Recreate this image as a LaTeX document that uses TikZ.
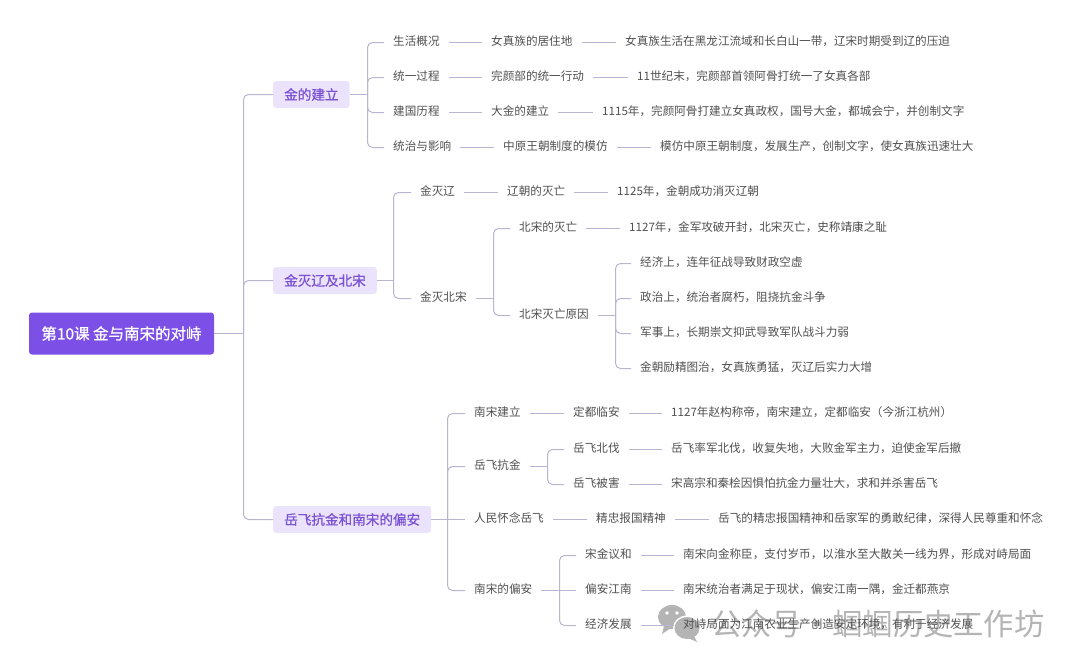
\documentclass[tikz,border=0pt]{standalone}
\usepackage{fontspec}
\setmainfont{Noto Sans CJK SC}
\newfontfamily\medfont[FakeBold=0.8]{Noto Sans CJK SC}
\definecolor{rootfill}{HTML}{7C4FE6}
\definecolor{topicfill}{HTML}{EAE3FB}
\definecolor{topictext}{HTML}{7B52D3}
\definecolor{linkcol}{HTML}{B8B4D2}
\definecolor{leaftext}{HTML}{505050}
\definecolor{markcol}{HTML}{B4B4B4}
\begin{document}
\begin{tikzpicture}[x=1pt,y=-1pt,
  rootbox/.style={fill=rootfill, text=white, rounded corners=3pt, font=\fontsize{15.5}{18}\medfont, minimum width=185pt, minimum height=42pt, inner sep=0pt},
  topic/.style={fill=topicfill, text=topictext, rounded corners=3pt, font=\fontsize{13.6}{16}\medfont, anchor=west, minimum height=27pt, inner xsep=11pt, inner ysep=0pt},
  leaf/.style={text=leaftext, font=\fontsize{11.6}{14}\selectfont, anchor=west, inner xsep=9pt, inner ysep=0pt, text height=7pt, text depth=2pt},
  link/.style={draw=linkcol, line width=1pt, rounded corners=5pt}]
\useasboundingbox (0,0) rectangle (1080,667);
% watermark
\fill[markcol] (672,617) ellipse (14 and 12);
\fill[markcol] (664,626) -- (662,634) -- (671,628) -- cycle;
\fill[white] (687,628) ellipse (14 and 12.5);
\fill[markcol] (687,628) ellipse (12.5 and 11);
\fill[markcol] (694,636) -- (697,642) -- (688,638) -- cycle;
\fill[white] (667,613) circle (1.8);
\fill[white] (677,613) circle (1.8);
\node[text=markcol, font=\fontsize{30.3}{32}\selectfont, anchor=west, inner sep=0pt] (mark) at (711,624) {公众号・蝈蝈历史工作坊};
% nodes
\node[rootbox] (root) at (121.5,333.5) {第10课 金与南宋的对峙};
\coordinate (t0) at (243.5,333.5);
\node[topic] (jin) at (273,94.5) {金的建立};
\coordinate (t1) at (367.5,94.5);
\node[topic] (mie) at (273,280.5) {金灭辽及北宋};
\coordinate (t2) at (393.5,280.5);
\node[topic] (yue) at (273,519.5) {岳飞抗金和南宋的偏安};
\coordinate (t3) at (447.5,519.5);

\node[leaf] (a1) at (384,42.5) {生活概况};
\node[leaf] (a1b) at (482,42.5) {女真族的居住地};
\node[leaf] (a1c) at (616,42.5) {女真族生活在黑龙江流域和长白山一带，辽宋时期受到辽的压迫};
\node[leaf] (a2) at (384,77.5) {统一过程};
\node[leaf] (a2b) at (482,77.5) {完颜部的统一行动};
\node[leaf] (a2c) at (628,77.5) {11世纪末，完颜部首领阿骨打统一了女真各部};
\node[leaf] (a3) at (384,112.5) {建国历程};
\node[leaf] (a3b) at (482,112.5) {大金的建立};
\node[leaf] (a3c) at (593,112.5) {1115年，完颜阿骨打建立女真政权，国号大金，都城会宁，并创制文字};
\node[leaf] (a4) at (384,147.5) {统治与影响};
\node[leaf] (a4b) at (494,147.5) {中原王朝制度的模仿};
\node[leaf] (a4c) at (651,147.5) {模仿中原王朝制度，发展生产，创制文字，使女真族迅速壮大};

\node[leaf] (b1) at (411,192.5) {金灭辽};
\node[leaf] (b1b) at (498,192.5) {辽朝的灭亡};
\node[leaf] (b1c) at (608,192.5) {1125年，金朝成功消灭辽朝};
\node[leaf] (b2) at (411,298.5) {金灭北宋};
\coordinate (t4) at (493.5,298.5);
\node[leaf] (c1) at (510,228.5) {北宋的灭亡};
\node[leaf] (c1b) at (620,228.5) {1127年，金军攻破开封，北宋灭亡，史称靖康之耻};
\node[leaf] (c2) at (510,315.5) {北宋灭亡原因};
\coordinate (t5) at (615.5,315.5);
\node[leaf] (d1) at (631,263.5) {经济上，连年征战导致财政空虚};
\node[leaf] (d2) at (631,298.5) {政治上，统治者腐朽，阻挠抗金斗争};
\node[leaf] (d3) at (631,333.5) {军事上，长期崇文抑武导致军队战斗力弱};
\node[leaf] (d4) at (631,368.5) {金朝励精图治，女真族勇猛，灭辽后实力大增};

\node[leaf] (e1) at (465,413.5) {南宋建立};
\node[leaf] (e1b) at (564,413.5) {定都临安};
\node[leaf] (e1c) at (662,413.5) {1127年赵构称帝，南宋建立，定都临安（今浙江杭州）};
\node[leaf] (e2) at (465,466.5) {岳飞抗金};
\coordinate (t6) at (547.5,466.5);
\node[leaf] (f1) at (564,449.5) {岳飞北伐};
\node[leaf] (f1b) at (662,449.5) {岳飞率军北伐，收复失地，大败金军主力，迫使金军后撤};
\node[leaf] (f2) at (564,484.5) {岳飞被害};
\node[leaf] (f2b) at (662,484.5) {宋高宗和秦桧因惧怕抗金力量壮大，求和并杀害岳飞};
\node[leaf] (e3) at (465,519.5) {人民怀念岳飞};
\node[leaf] (e3b) at (587,519.5) {精忠报国精神};
\node[leaf] (e3c) at (709,519.5) {岳飞的精忠报国精神和岳家军的勇敢纪律，深得人民尊重和怀念};
\node[leaf] (e4) at (465,590.5) {南宋的偏安};
\coordinate (t7) at (559.5,590.5);
\node[leaf] (g1) at (576,555.5) {宋金议和};
\node[leaf] (g1b) at (674,555.5) {南宋向金称臣，支付岁币，以淮水至大散关一线为界，形成对峙局面};
\node[leaf] (g2) at (576,590.5) {偏安江南};
\node[leaf] (g2b) at (674,590.5) {南宋统治者满足于现状，偏安江南一隅，金迁都燕京};
\node[leaf] (g3) at (576,625.5) {经济发展};
\node[leaf] (g3b) at (674,625.5) {对峙局面为江南农业生产创造安定环境，有利于经济发展};

% connectors
\draw[link] (root) -- (t0);
\draw[link] (t0) |- (jin.west);
\draw[link] (t0) |- (mie.west);
\draw[link] (t0) |- (yue.west);
\draw[link] (jin) -- (t1);
\draw[link] (t1) |- (a1.west);
\draw[link] (t1) |- (a2.west);
\draw[link] (t1) |- (a3.west);
\draw[link] (t1) |- (a4.west);
\draw[link] (a1) -- (a1b);
\draw[link] (a1b) -- (a1c);
\draw[link] (a2) -- (a2b);
\draw[link] (a2b) -- (a2c);
\draw[link] (a3) -- (a3b);
\draw[link] (a3b) -- (a3c);
\draw[link] (a4) -- (a4b);
\draw[link] (a4b) -- (a4c);
\draw[link] (mie) -- (t2);
\draw[link] (t2) |- (b1.west);
\draw[link] (t2) |- (b2.west);
\draw[link] (b1) -- (b1b);
\draw[link] (b1b) -- (b1c);
\draw[link] (b2) -- (t4);
\draw[link] (t4) |- (c1.west);
\draw[link] (t4) |- (c2.west);
\draw[link] (c1) -- (c1b);
\draw[link] (c2) -- (t5);
\draw[link] (t5) |- (d1.west);
\draw[link] (t5) |- (d2.west);
\draw[link] (t5) |- (d3.west);
\draw[link] (t5) |- (d4.west);
\draw[link] (yue) -- (t3);
\draw[link] (t3) |- (e1.west);
\draw[link] (t3) |- (e2.west);
\draw[link] (t3) -- (e3);
\draw[link] (t3) |- (e4.west);
\draw[link] (e1) -- (e1b);
\draw[link] (e1b) -- (e1c);
\draw[link] (e2) -- (t6);
\draw[link] (t6) |- (f1.west);
\draw[link] (t6) |- (f2.west);
\draw[link] (f1) -- (f1b);
\draw[link] (f2) -- (f2b);
\draw[link] (e3) -- (e3b);
\draw[link] (e3b) -- (e3c);
\draw[link] (e4) -- (t7);
\draw[link] (t7) |- (g1.west);
\draw[link] (t7) -- (g2);
\draw[link] (t7) |- (g3.west);
\draw[link] (g1) -- (g1b);
\draw[link] (g2) -- (g2b);
\draw[link] (g3) -- (g3b);
\end{tikzpicture}
\end{document}
